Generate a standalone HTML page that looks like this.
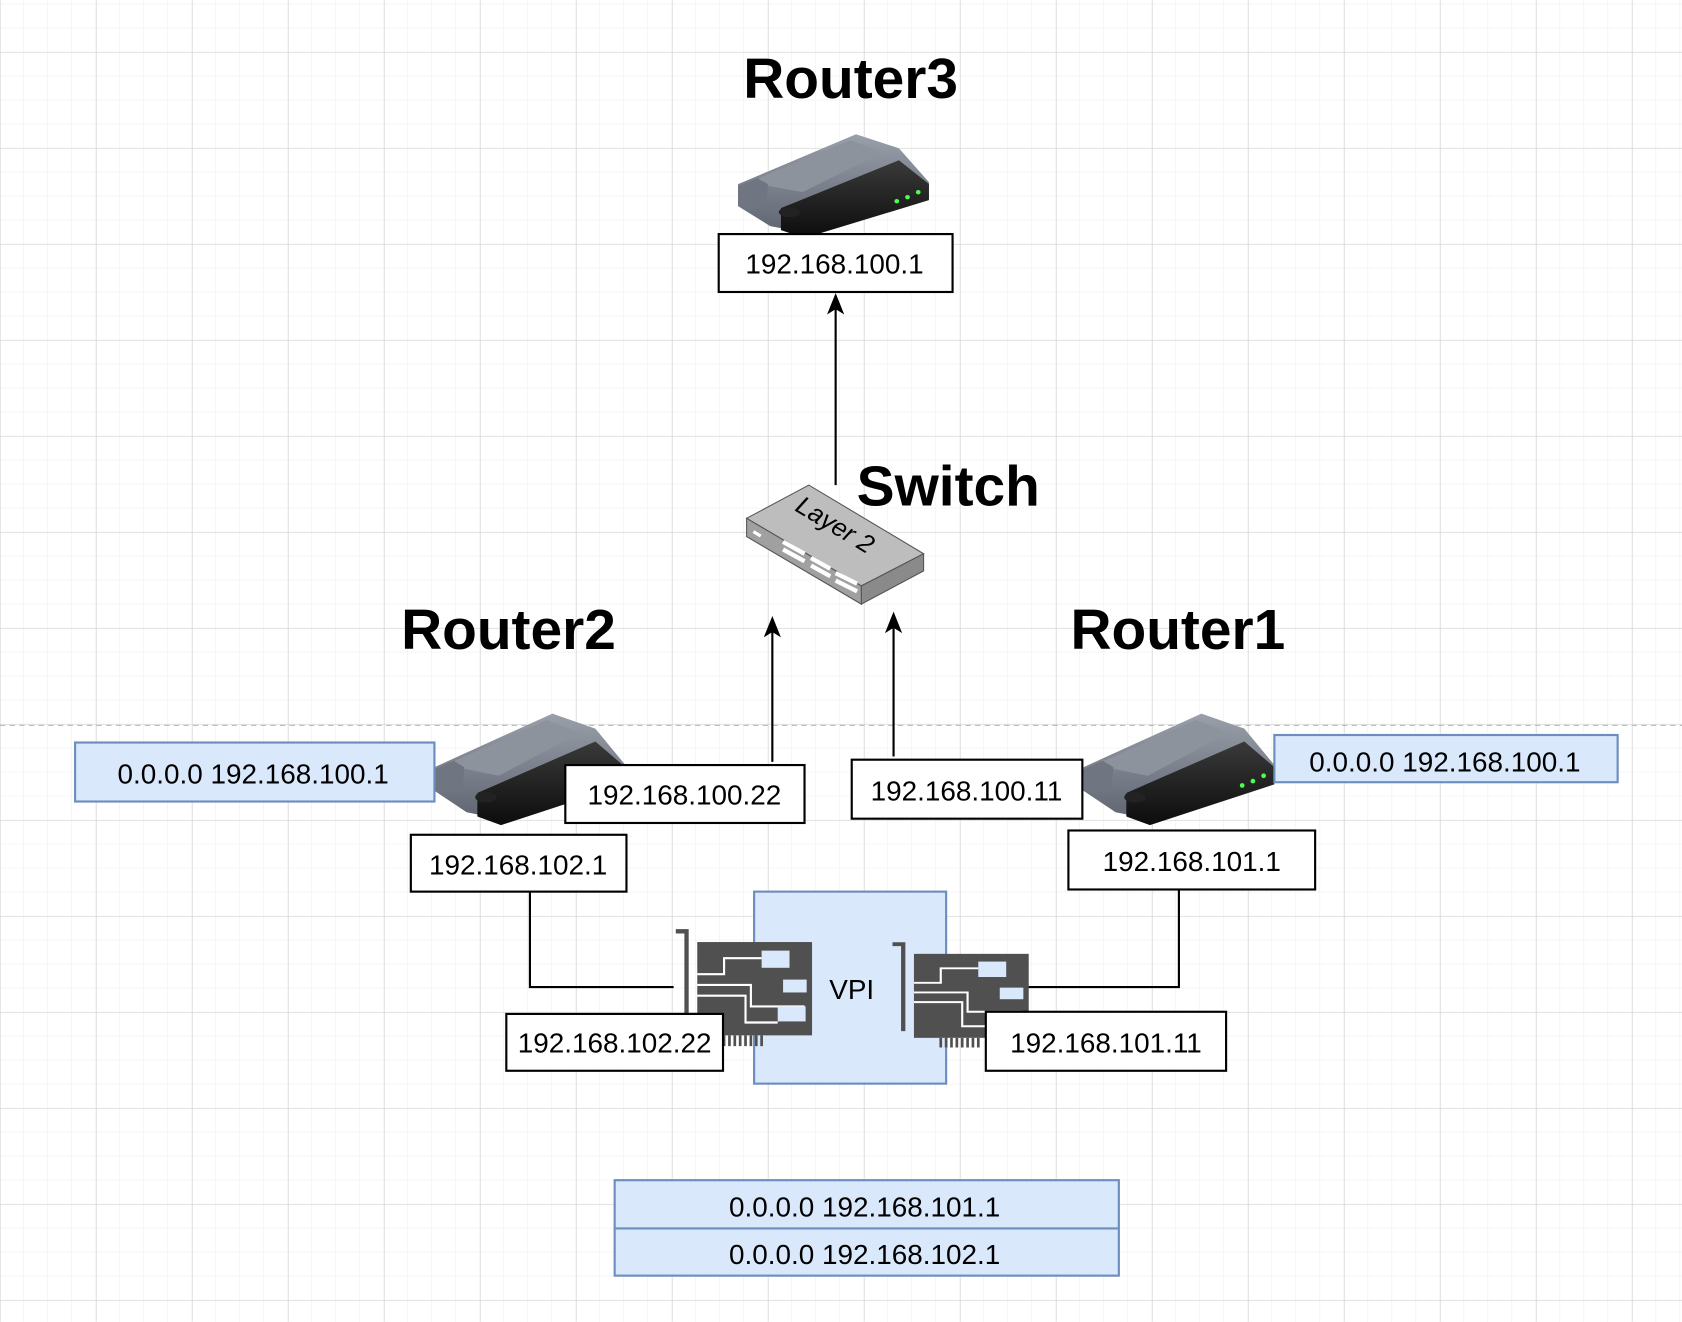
<!DOCTYPE html>
<html><head><meta charset="utf-8"><style>
html,body{margin:0;padding:0;background:#fff;}
svg{display:block;}
text{font-family:"Liberation Sans",sans-serif;}
</style></head><body>
<svg width="1682" height="1322" viewBox="0 0 1568 1232" xmlns="http://www.w3.org/2000/svg">
<defs>
<pattern id="minor" width="22.375" height="22.375" patternUnits="userSpaceOnUse" y="48.5">
<path d="M22.375 0V22.375M0 22.375H22.375" fill="none" stroke="#ececec" stroke-width="1"/>
</pattern>
<pattern id="major" width="89.5" height="89.5" patternUnits="userSpaceOnUse" y="48.5">
<path d="M0 0V89.5M0 0H89.5" fill="none" stroke="#d0d0d0" stroke-width="1"/>
</pattern>
<linearGradient id="gt" x1="0" y1="0" x2="0" y2="1"><stop offset="0" stop-color="#9aa0aa"/><stop offset="1" stop-color="#5e6470"/></linearGradient>
<linearGradient id="bk" x1="0" y1="0" x2="0" y2="1"><stop offset="0" stop-color="#3a3a3a"/><stop offset="1" stop-color="#0c0c0c"/></linearGradient>
<g id="router">
<polygon points="0,50 110,0 150,14 178,48 178,62 70,100 30,92 0,72" fill="url(#gt)"/>
<polygon points="10,48 105,6 135,18 60,58" fill="#8d939d"/>
<polygon points="40,74 150,26 178,50 178,66 62,104 40,96" fill="url(#bk)"/>
<polygon points="0,52 18,44 28,50 26,72 8,74 0,70" fill="#6f7682"/>
<ellipse cx="48" cy="78" rx="10" ry="5" fill="#222"/>
<circle cx="148" cy="67" r="2.2" fill="#4cff4c"/>
<circle cx="158" cy="63" r="2.2" fill="#4cff4c"/>
<circle cx="168" cy="58" r="2.2" fill="#4cff4c"/>
</g>
<g id="nic">
<path d="M0 0H10V90" fill="none" stroke="#505050" stroke-width="4"/>
<rect x="20" y="10" width="107" height="87" fill="#505050"/>
<path d="M20 40H45V25H80M20 50H70V70H120M20 60H65V85H95" fill="none" stroke="#fff" stroke-width="2"/>
<rect x="80" y="18" width="26" height="16" fill="#dae8fc"/>
<rect x="100" y="45" width="22" height="12" fill="#dae8fc"/>
<rect x="95" y="70" width="26" height="14" fill="#dae8fc"/>
<path d="M45 97v10M50 97v10M55 97v10M60 97v10M65 97v10M70 97v10M75 97v10M80 97v10" stroke="#505050" stroke-width="2.5"/>
</g>
</defs>
<rect width="1568" height="1232" fill="url(#minor)"/>
<rect width="1568" height="1232" fill="url(#major)"/>
<line x1="0" y1="676" x2="1568" y2="676" stroke="#b5b5b5" stroke-dasharray="5,4"/>

<text x="793" y="91" font-size="53" font-weight="bold" text-anchor="middle">Router3</text>
<use href="#router" transform="translate(688,125) scale(1,0.93)"/>
<rect x="670" y="218" width="218" height="54" fill="#fff" stroke="#000" stroke-width="2"/>
<text x="778" y="255" font-size="26" text-anchor="middle">192.168.100.1</text>

<line x1="779" y1="452" x2="779" y2="282" stroke="#000" stroke-width="2"/>
<path d="M779 273L771 293L779 288L787 293Z"/>

<text x="884" y="471" font-size="53" font-weight="bold" text-anchor="middle">Switch</text>
<g stroke="#555" stroke-width="1">
<polygon points="696,483 754,452 861,516 803,546" fill="#bdbdbd"/>
<polygon points="696,483 803,546 803,563 696,500" fill="#a0a0a0"/>
<polygon points="803,546 861,516 861,532 803,563" fill="#8a8a8a"/>
</g>
<text x="778" y="497" font-size="24" font-style="italic" transform="rotate(31 778 490)" text-anchor="middle">Layer 2</text>
<path d="M730 505l20 11M730 512l20 11M756 520l18 10M756 527l18 10M779 534l20 10M779 541l20 10" stroke="#fff" stroke-width="4"/>
<rect x="702" y="496" width="8" height="3" fill="#fff" transform="rotate(31 706 497)"/>

<line x1="720" y1="710" x2="720" y2="582" stroke="#000" stroke-width="2"/>
<path d="M720 574L712 594L720 589L728 594Z"/>
<line x1="833" y1="705" x2="833" y2="578" stroke="#000" stroke-width="2"/>
<path d="M833 570L825 590L833 585L841 590Z"/>

<text x="474" y="605" font-size="53" font-weight="bold" text-anchor="middle">Router2</text>
<text x="1098" y="605" font-size="53" font-weight="bold" text-anchor="middle">Router1</text>

<use href="#router" transform="translate(405,665)"/>
<use href="#router" transform="translate(1010,665)"/>

<rect x="70" y="692" width="335" height="55" fill="#dae8fc" stroke="#6c8ebf" stroke-width="2"/>
<text x="236" y="730" font-size="26" text-anchor="middle">0.0.0.0 192.168.100.1</text>
<rect x="527" y="713" width="223" height="54" fill="#fff" stroke="#000" stroke-width="2"/>
<text x="638" y="750" font-size="26" text-anchor="middle">192.168.100.22</text>
<rect x="794" y="708" width="215" height="55" fill="#fff" stroke="#000" stroke-width="2"/>
<text x="901" y="746" font-size="26" text-anchor="middle">192.168.100.11</text>
<rect x="1188" y="685" width="320" height="44" fill="#dae8fc" stroke="#6c8ebf" stroke-width="2"/>
<text x="1347" y="719" font-size="26" text-anchor="middle">0.0.0.0 192.168.100.1</text>

<rect x="383" y="778" width="201" height="53" fill="#fff" stroke="#000" stroke-width="2"/>
<text x="483" y="815" font-size="26" text-anchor="middle">192.168.102.1</text>
<rect x="996" y="774" width="230" height="55" fill="#fff" stroke="#000" stroke-width="2"/>
<text x="1111" y="812" font-size="26" text-anchor="middle">192.168.101.1</text>

<path d="M494 831V920H628" fill="none" stroke="#000" stroke-width="2"/>
<path d="M1099 829V920H958" fill="none" stroke="#000" stroke-width="2"/>

<rect x="703" y="831" width="179" height="179" fill="#dae8fc" stroke="#6c8ebf" stroke-width="2"/>
<text x="794" y="931" font-size="26" text-anchor="middle">VPI</text>

<use href="#nic" transform="translate(630,868)"/>
<use href="#nic" transform="translate(832,880) scale(1,0.9)"/>

<rect x="472" y="945" width="202" height="53" fill="#fff" stroke="#000" stroke-width="2"/>
<text x="573" y="981" font-size="26" text-anchor="middle">192.168.102.22</text>
<rect x="919" y="943" width="224" height="55" fill="#fff" stroke="#000" stroke-width="2"/>
<text x="1031" y="981" font-size="26" text-anchor="middle">192.168.101.11</text>

<rect x="573" y="1100" width="470" height="89" fill="#dae8fc" stroke="#6c8ebf" stroke-width="2"/>
<line x1="573" y1="1145" x2="1043" y2="1145" stroke="#6c8ebf" stroke-width="2"/>
<text x="806" y="1134" font-size="26" text-anchor="middle">0.0.0.0 192.168.101.1</text>
<text x="806" y="1178" font-size="26" text-anchor="middle">0.0.0.0 192.168.102.1</text>
</svg>
</body></html>
